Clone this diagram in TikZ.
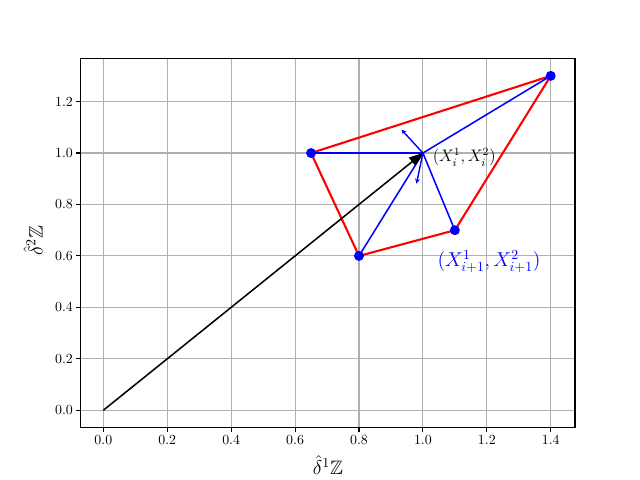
\documentclass[tikz,border=0pt]{standalone}
\usepackage{amsmath,amssymb}
\usetikzlibrary{arrows.meta}
\begin{document}
\begin{tikzpicture}[x=230.1pt,y=185.2pt,
  gridline/.style={draw=black!31, line width=0.8pt},
  frame/.style={draw=black, line width=0.8pt},
  redline/.style={draw=red, line width=1.5pt},
  blueline/.style={draw=blue, line width=1.1pt},
  pt/.style={circle, fill=blue, inner sep=0pt, minimum size=7.2pt},
  quiv/.style={draw=blue, line width=1pt, -{Stealth[length=3.5pt,width=3.5pt]}},
  ticklab/.style={font=\fontsize{10}{12}\selectfont, inner sep=2pt},
]
\def\xa{-0.0707}\def\xb{1.476}\def\ya{-0.066}\def\yb{1.3686}
\useasboundingbox (-0.3233,-0.2711) rectangle (1.6793,1.5950);
% grid
\foreach \x in {0.0,0.2,0.4,0.6,0.8,1.0,1.2,1.4} {
  \draw[gridline] (\x,\ya) -- (\x,\yb);
  \draw[line width=0.8pt] (\x,\ya) -- ++(0,-3.5pt);
  \node[ticklab, anchor=north] (xt\x) at ([yshift=-3.5pt]\x,\ya) {$\x$};
}
\foreach \y in {0.0,0.2,0.4,0.6,0.8,1.0,1.2} {
  \draw[gridline] (\xa,\y) -- (\xb,\y);
  \draw[line width=0.8pt] (\xa,\y) -- ++(-3.5pt,0);
  \node[ticklab, anchor=east] (yt\y) at ([xshift=-3.5pt]\xa,\y) {$\y$};
}
% points
\coordinate (O) at (0,0);
\coordinate (C) at (1,1);
\coordinate (A) at (0.65,1.0);
\coordinate (B) at (0.8,0.6);
\coordinate (D) at (1.1,0.7);
\coordinate (E) at (1.4,1.3);
\coordinate (Q1) at (0.933,1.091);
\coordinate (Q2) at (0.98,0.881);
% red polygon
\draw[redline, line join=round] (A) -- (E) -- (D) -- (B) -- cycle;
% blue lines
\draw[blueline] (C) -- (A);
\draw[blueline] (C) -- (B);
\draw[blueline] (C) -- (D);
\draw[blueline] (C) -- (E);
% quiver arrows
\draw[quiv] (C) -- (Q1);
\draw[quiv] (C) -- (Q2);
% black arrow
\draw[line width=1.1pt, -{Triangle[length=10pt,width=7.5pt]}] (O) -- (C);
% dots
\node[pt] (pA) at (A) {};
\node[pt] (pB) at (B) {};
\node[pt] (pD) at (D) {};
\node[pt] (pE) at (E) {};
% labels
\node[anchor=west, inner sep=0pt, font=\fontsize{12}{14}\selectfont] (lc) at (1.03,0.983) {$(X_i^1, X_i^2)$};
\node[anchor=west, inner sep=0pt, text=blue, font=\fontsize{14}{16}\selectfont] (ld) at (1.045,0.578) {$(X^1_{i+1}, X^2_{i+1})$};
% frame
\draw[frame] (\xa,\ya) rectangle (\xb,\yb);
% axis labels
\node[font=\fontsize{14}{16}\selectfont] (xl) at (0.703,-0.213) {$\hat{\delta}^1\mathbb{Z}$};
\node[font=\fontsize{14}{16}\selectfont, rotate=90] (yl) at (-0.22,0.66) {$\hat{\delta}^2\mathbb{Z}$};
\end{tikzpicture}
\end{document}
